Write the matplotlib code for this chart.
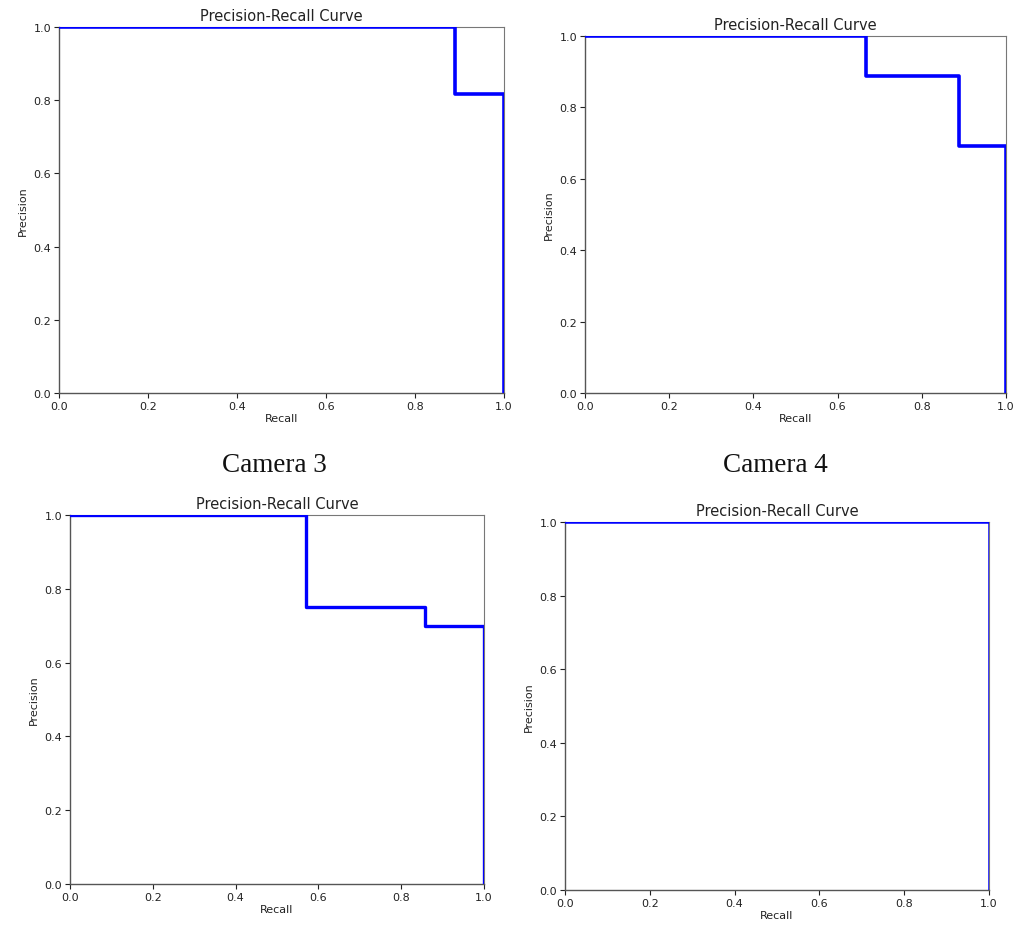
import matplotlib
matplotlib.use("Agg")
import matplotlib.pyplot as plt

# Precision-recall operating points per camera (recall, precision), drawn as post-steps
cam1_recall = [0.0, 0.889, 1.0, 1.0]
cam1_precision = [1.0, 0.818, 0.818, 0.0]

cam2_recall = [0.0, 0.667, 0.889, 1.0, 1.0]
cam2_precision = [1.0, 0.889, 0.692, 0.692, 0.0]

cam3_recall = [0.0, 0.571, 0.857, 1.0, 1.0]
cam3_precision = [1.0, 0.75, 0.70, 0.70, 0.0]

cam4_recall = [0.0, 1.0, 1.0]
cam4_precision = [1.0, 1.0, 0.0]

tick_values = [0.0, 0.2, 0.4, 0.6, 0.8, 1.0]
captions = ["Camera 3", "Camera 4"]

fig = plt.figure(figsize=(10.2, 9.29), dpi=100)
fig.patch.set_facecolor("white")

# axes rectangles [left, bottom, width, height] in figure fractions
rects = [
    [0.0578, 0.5759, 0.4363, 0.3940],
    [0.5735, 0.5759, 0.4127, 0.3843],
    [0.0686, 0.0474, 0.4059, 0.3972],
    [0.5539, 0.0409, 0.4157, 0.3961],
]
curves = [
    (cam1_recall, cam1_precision),
    (cam2_recall, cam2_precision),
    (cam3_recall, cam3_precision),
    (cam4_recall, cam4_precision),
]
line_widths = [2.6, 2.6, 2.4, 1.8]

for rect, (rec, prec), lw in zip(rects, curves, line_widths):
    ax = fig.add_axes(rect)
    ax.step(rec, prec, where="post", color="blue", linewidth=lw, zorder=3)
    ax.set_xlim(0.0, 1.0)
    ax.set_ylim(0.0, 1.0)
    ax.set_xticks(tick_values)
    ax.set_yticks(tick_values)
    ax.set_xticklabels([f"{v:.1f}" for v in tick_values])
    ax.set_yticklabels([f"{v:.1f}" for v in tick_values])
    ax.tick_params(labelsize=8, length=3.5, width=0.8, pad=2, colors="#222222")
    ax.set_xlabel("Recall", fontsize=8, labelpad=2, color="#222222")
    ax.set_ylabel("Precision", fontsize=8, labelpad=4, color="#222222")
    ax.set_title("Precision-Recall Curve", fontsize=10.5, pad=5, color="#222222")
    for side in ["left", "bottom"]:
        ax.spines[side].set_color("#555555")
        ax.spines[side].set_linewidth(1.0)
    for side in ["top", "right"]:
        ax.spines[side].set_color("#777777")
        ax.spines[side].set_linewidth(0.8)

fig.text(0.2686, 1 - 466 / 929, captions[0], fontsize=19.5, family="Liberation Serif",
         ha="center", va="center", color="#111111")
fig.text(0.7598, 1 - 466 / 929, captions[1], fontsize=19.5, family="Liberation Serif",
         ha="center", va="center", color="#111111")

fig.savefig("out.png", dpi=100, facecolor="white")
